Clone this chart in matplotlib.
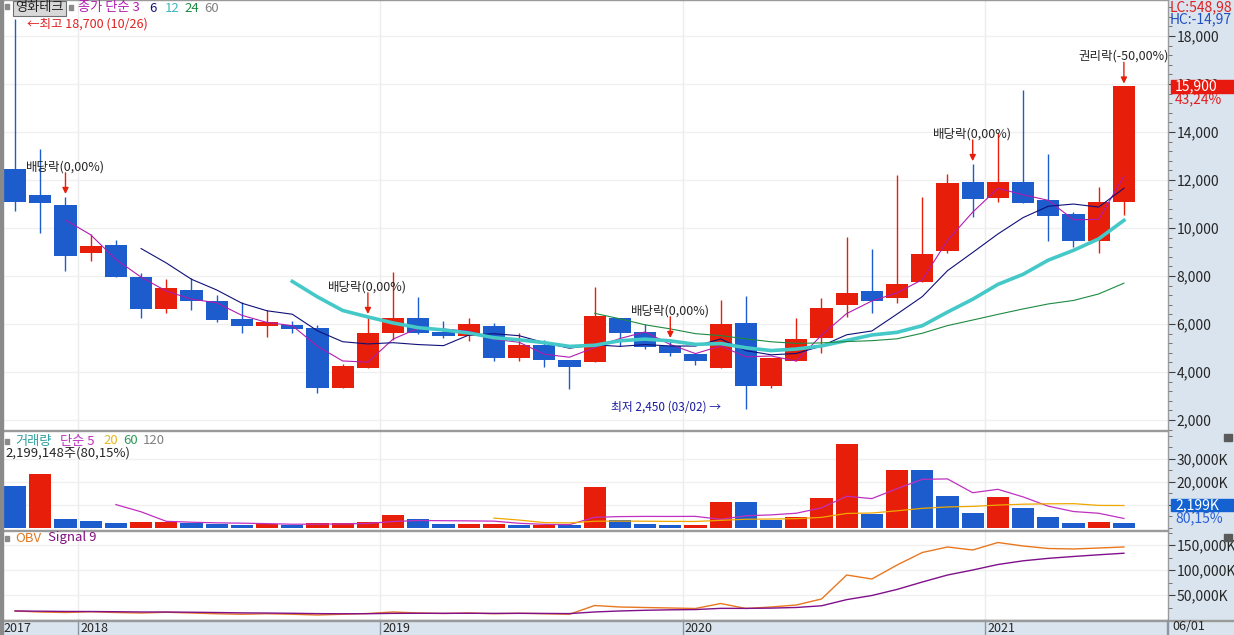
import numpy as np
import pandas as pd
import matplotlib
matplotlib.use('Agg')
import matplotlib.pyplot as plt
import matplotlib.transforms as mtransforms
from matplotlib.patches import Rectangle
from matplotlib.ticker import FixedLocator, AutoMinorLocator, FuncFormatter

plt.rcParams['font.family'] = ['Noto Sans CJK KR', 'DejaVu Sans']
NUM_FONT = ['Liberation Sans Narrow', 'Noto Sans CJK KR', 'DejaVu Sans']

# monthly candles, 2017-10 .. 2021-06
months = pd.period_range('2017-10', '2021-06', freq='M')

opens = [12450, 11380, 10960, 8970, 9280, 7960, 6640, 7420, 6960, 6210,
         5930, 5960, 5830, 3350, 4180, 5610, 6240, 5670, 5510, 5920,
         4600, 5125, 4500, 4430, 6240, 5670, 5080, 4750, 4180, 6050,
         3430, 4470, 5400, 6780, 7375, 7070, 7760, 9050, 11900, 11240,
         11900, 11170, 10570, 9470, 11100]
highs = [18700, 13280, 11300, 9750, 9500, 8110, 7875, 7900, 7200, 6900,
         6580, 6120, 5960, 4320, 6300, 8180, 7140, 6120, 6240, 6050,
         5610, 5330, 4500, 7530, 6240, 6000, 5300, 4750, 7000, 7180,
         4570, 6240, 7070, 9640, 9125, 12200, 11300, 12240, 12670, 13950,
         15750, 13080, 10680, 11720, 15900]
lows = [10720, 9800, 8220, 8640, 7970, 6260, 6470, 6580, 6100, 5640,
        5470, 5640, 3110, 3350, 4150, 5330, 5580, 5400, 5300, 4460,
        4470, 4220, 3280, 4430, 5080, 4950, 4670, 4290, 4180, 2450,
        3320, 4470, 4800, 6300, 6450, 6860, 7760, 8950, 10470, 11100,
        11050, 9470, 9200, 8970, 10540]
closes = [11100, 11050, 8850, 9250, 7970, 6640, 7500, 6970, 6180, 5930,
          6080, 5780, 3350, 4250, 5625, 6240, 5610, 5510, 5990, 4600,
          5125, 4500, 4220, 6350, 5610, 5050, 4780, 4470, 6000, 3430,
          4570, 5375, 6650, 7280, 6950, 7670, 8920, 11860, 11200, 11900,
          11050, 10510, 9470, 11100, 15900]
volumes_k = [18300, 23500, 3900, 3000, 2200, 2600, 2800, 2000, 1600, 1500,
             1600, 1500, 2100, 2200, 2500, 5800, 3700, 1700, 1800, 1900,
             1200, 1300, 1100, 17800, 3400, 1600, 1200, 1300, 11300, 11200,
             3500, 4800, 13000, 36500, 6100, 25200, 25000, 13900, 6500, 13500,
             8700, 4800, 2300, 2743.8, 2199.148]
obv_k = [18000, 16000, 15000, 16500, 15000, 14000, 15500, 14000, 12500, 11500,
         12500, 11500, 10000, 11500, 13000, 16000, 14000, 13000, 14000, 12500,
         13500, 12500, 11500, 29000, 26000, 25000, 24000, 23000, 33000, 23000,
         26000, 30000, 42000, 90000, 82000, 110000, 135000, 146000, 140000, 155000,
         148000, 143000, 142000, 144000, 146000]

event_idx = [2, 14, 26, 38, 44]
event_labels = ['배당락(0,00%)', '배당락(0,00%)', '배당락(0,00%)', '배당락(0,00%)', '권리락(-50,00%)']

price_ma = [3, 6, 12, 24, 60]
vol_ma = [5, 20, 60, 120]

RED = '#e61e0a'
BLUE = '#1c5ccc'
TXT = '#262626'

W, H = 1234, 635
fig = plt.figure(figsize=(W / 100, H / 100), dpi=100)
fig.patch.set_facecolor('#dae4ee')


def px_rect(x0, y0, x1, y1):
    return [x0 / W, 1 - y1 / H, (x1 - x0) / W, (y1 - y0) / H]


def ftext(x, y, s, **kw):
    kw.setdefault('va', 'center')
    kw.setdefault('ha', 'left')
    kw.setdefault('fontsize', 9)
    fig.text(x / W, 1 - y / H, s, **kw)


def fbox(x0, y0, x1, y1, **kw):
    fig.patches.append(Rectangle((x0 / W, 1 - y1 / H), (x1 - x0) / W, (y1 - y0) / H,
                                 transform=fig.transFigure, figure=fig, **kw))


ax_p = fig.add_axes(px_rect(4, 0, 1168, 430))
ax_v = fig.add_axes(px_rect(4, 431, 1168, 530))
ax_o = fig.add_axes(px_rect(4, 531, 1168, 620))

x = np.arange(len(months))
o = np.array(opens, float)
c = np.array(closes, float)
up = c >= o
cols = np.where(up, RED, BLUE)
bounds = [i - 0.5 for i, m in enumerate(months) if m.month == 1]

for ax in (ax_p, ax_v, ax_o):
    ax.set_facecolor('white')
    ax.set_xlim(-0.44, 45.75)
    ax.set_xticks([])
    ax.yaxis.tick_right()
    for s in ax.spines.values():
        s.set_color('#9a9a9a')
        s.set_linewidth(1)
    ax.spines['left'].set_visible(False)
    for b in bounds:
        ax.axvline(b, color='#ececec', lw=1, zorder=0)
    ax.grid(axis='y', color='#f0f0f0', lw=1, zorder=0)
    ax.set_axisbelow(True)
    ax.tick_params(axis='y', which='major', direction='out', length=5, pad=1,
                   colors='#404040', labelcolor=TXT, labelsize=10)
    ax.tick_params(axis='y', which='minor', direction='out', length=3, colors='#606060')

# ---- price panel
ax_p.vlines(x, lows, highs, colors=cols, lw=1, zorder=2)
ax_p.bar(x, np.abs(c - o), bottom=np.minimum(o, c), width=0.88, color=cols, lw=0, zorder=2)
s_close = pd.Series(closes)
ma_styles = {3: ('#b01cb0', 0.8), 6: ('#10107a', 0.8), 12: ('#44c8c8', 2.6),
             24: ('#1e8a42', 0.8), 60: ('#888888', 0.8)}
for n in price_ma:
    col, lw = ma_styles[n]
    ax_p.plot(x, s_close.rolling(n).mean(), color=col, lw=lw, zorder=3)
ax_p.set_ylim(1583, 19500)
ax_p.yaxis.set_major_locator(FixedLocator(range(2000, 19000, 2000)))
ax_p.yaxis.set_minor_locator(AutoMinorLocator(5))
ax_p.yaxis.set_major_formatter(FuncFormatter(lambda v, p: f'{int(v):,}'))

for i, lab in zip(event_idx, event_labels):
    ax_p.annotate('', xy=(i, highs[i]), xytext=(0, 24), textcoords='offset pixels',
                  arrowprops=dict(arrowstyle='-|>', color=RED, lw=1, mutation_scale=9,
                                  shrinkA=0, shrinkB=2), zorder=4)
    ax_p.annotate(lab, xy=(i, highs[i]), xytext=(0, 30), textcoords='offset pixels',
                  ha='center', va='center', fontsize=9, color=TXT)

hi = int(np.argmax(highs))
lo = int(np.argmin(lows))
ax_p.annotate(f'←최고 {highs[hi]:,} (10/26)', xy=(hi, highs[hi]), xytext=(12, -5),
              textcoords='offset pixels', ha='left', va='center', fontsize=9, color='#e02020')
ax_p.annotate(f'최저 {lows[lo]:,} (03/02) →', xy=(lo, lows[lo]), xytext=(-25, 2),
              textcoords='offset pixels', ha='right', va='center', fontsize=8.5, color='#1a1aa0')

bl = mtransforms.blended_transform_factory(ax_p.transAxes, ax_p.transData)
last = closes[-1]
pct = (closes[-1] / closes[-2] - 1) * 100
ax_p.add_patch(Rectangle((1.0026, last - 280), 0.06, 560, transform=bl, clip_on=False,
                         color='#e8190f', zorder=10))
ax_p.text(1.006, last, f'{last:,}', transform=bl, color='white', va='center', ha='left',
          fontsize=10, family=NUM_FONT, zorder=11, clip_on=False)
ax_p.annotate(f'{pct:.2f}%'.replace('.', ','), xy=(1.006, last), xycoords=bl,
              xytext=(0, -13), textcoords='offset pixels', color='#e02020',
              va='center', ha='left', fontsize=10, family=NUM_FONT, annotation_clip=False)

# ---- volume panel
v = np.array(volumes_k, float)
vcols = [BLUE] + [RED if v[i] > v[i - 1] else BLUE for i in range(1, len(v))]
ax_v.bar(x, v, width=0.88, color=vcols, lw=0, zorder=2)
s_vol = pd.Series(volumes_k)
vma_styles = {5: '#c030c0', 20: '#f0a800', 60: '#2e9a5a', 120: '#888888'}
for n in vol_ma:
    ax_v.plot(x, s_vol.rolling(n).mean(), color=vma_styles[n], lw=0.9, zorder=3)
ax_v.set_ylim(-870, 42170)
ax_v.yaxis.set_major_locator(FixedLocator([10000, 20000, 30000]))
ax_v.yaxis.set_minor_locator(AutoMinorLocator(2))
ax_v.yaxis.set_major_formatter(FuncFormatter(lambda val, p: f'{int(val):,}K'))
blv = mtransforms.blended_transform_factory(ax_v.transAxes, ax_v.transData)
ax_v.add_patch(Rectangle((1.0026, 10000 - 2800), 0.06, 5600, transform=blv, clip_on=False,
                         color='#1462d2', zorder=10))
ax_v.text(1.006, 10000, f'{int(v[-1]):,}K', transform=blv, color='white', va='center',
          ha='left', fontsize=10, family=NUM_FONT, zorder=11, clip_on=False)
vpct = v[-1] / v[-2] * 100
ax_v.annotate(f'{vpct:.2f}%'.replace('.', ','), xy=(1.006, 10000), xycoords=blv,
              xytext=(0, -13), textcoords='offset pixels', color='#2a60d8',
              va='center', ha='left', fontsize=10, family=NUM_FONT, annotation_clip=False)

# ---- OBV panel
s_obv = pd.Series(obv_k)
ax_o.plot(x, s_obv, color='#e87820', lw=1, zorder=3)
ax_o.plot(x, s_obv.ewm(span=9, adjust=False).mean(), color='#80108a', lw=1, zorder=3)
ax_o.set_ylim(0, 178000)
ax_o.yaxis.set_major_locator(FixedLocator([50000, 100000, 150000]))
ax_o.yaxis.set_minor_locator(AutoMinorLocator(2))
ax_o.yaxis.set_major_formatter(FuncFormatter(lambda val, p: f'{int(val):,}K'))

for ax in (ax_p, ax_v, ax_o):
    for lab in ax.get_yticklabels():
        lab.set_family(NUM_FONT)

# ---- date strip
blo = mtransforms.blended_transform_factory(ax_o.transData, ax_o.transAxes)
strip = 15 / 89
for b, m in zip(bounds, [mm for mm in months if mm.month == 1]):
    ax_o.plot([b, b], [-strip, 0], transform=blo, clip_on=False, color='#8c96a2', lw=1)
    ax_o.annotate(str(m.year), xy=(b, 0), xycoords=blo, xytext=(2, -8),
                  textcoords='offset pixels', ha='left', va='center', fontsize=9,
                  family=NUM_FONT, color=TXT, annotation_clip=False)
ax_o.annotate(str(months[0].year), xy=(-0.44, 0), xycoords=blo, xytext=(-1, -8),
              textcoords='offset pixels', ha='left', va='center', fontsize=9,
              family=NUM_FONT, color=TXT, annotation_clip=False)
ftext(1172, 627, '06/01', family=NUM_FONT, color=TXT)
fbox(0, 620, 1234, 621, color='#9a9a9a')
fbox(1167, 620, 1168, 635, color='#8c96a2')

# ---- left frame and legends
fbox(0, 0, 3, 635, color='#8a8a8a')
fbox(5, 4, 9, 9, color='#8a8a8a')
fbox(13, 1, 66, 16, facecolor='#d8d8d8', edgecolor='#707070', lw=0.8)
ftext(15, 8, '영화테크', color='#202020', fontsize=9.5)
fbox(69, 5, 73, 10, color='#8a8a8a')
ftext(78, 8, '종가 단순 3', color='#b020b0', fontsize=9.5)
ftext(149, 8, '6', color='#10107a', fontsize=9.5)
ftext(165, 8, '12', color='#40b8c0', fontsize=9.5)
ftext(184, 8, '24', color='#1e8a42', fontsize=9.5)
ftext(204, 8, '60', color='#808080', fontsize=9.5)
ftext(1170, 7, 'LC:548,98', color='#e02020', fontsize=10, family=NUM_FONT)
ftext(1170, 19, 'HC:-14,97', color='#2050c0', fontsize=10, family=NUM_FONT)

fbox(5, 439, 9, 444, color='#8a8a8a')
ftext(15, 441, '거래량', color='#30a0a0', fontsize=9.5)
ftext(60, 441, '단순 5', color='#c030c0', fontsize=9.5)
ftext(103, 441, '20', color='#e8b820', fontsize=9.5)
ftext(123, 441, '60', color='#2e9a5a', fontsize=9.5)
ftext(143, 441, '120', color='#808080', fontsize=9.5)
ftext(5, 453, f'{int(round(v[-1] * 1000)):,}주({vpct:.2f}%)'.replace('.', ','), color=TXT, fontsize=9.5)
fbox(1224, 434, 1232, 441, color='#5a5a5a')

fbox(5, 536, 9, 541, color='#8a8a8a')
ftext(15, 538, 'OBV', color='#e07820', fontsize=9.5)
ftext(48, 538, 'Signal 9', color='#801080', fontsize=9.5)
fbox(1224, 534, 1232, 541, color='#5a5a5a')

fig.savefig('out.png', dpi=100, facecolor=fig.get_facecolor())
